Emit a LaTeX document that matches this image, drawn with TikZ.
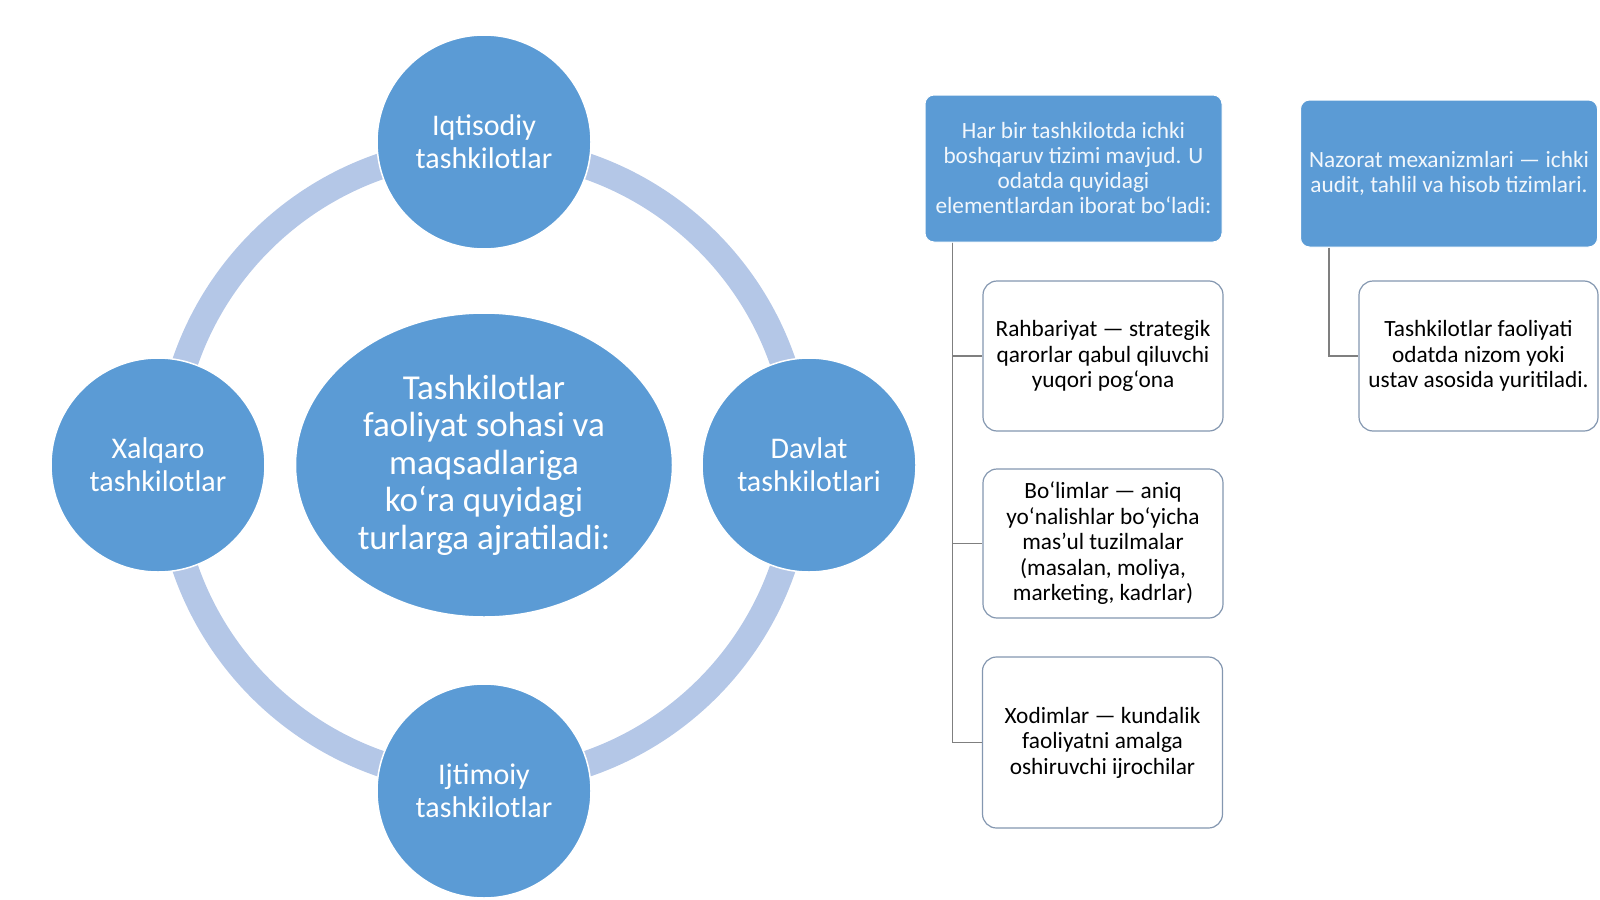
\documentclass[tikz,border=0pt]{standalone}
\usepackage{fontspec}
\setmainfont{Carlito}
\usetikzlibrary{shapes.geometric}
\definecolor{orgblue}{HTML}{5B9BD5}
\definecolor{ringblue}{HTML}{B4C7E7}
\definecolor{kidline}{HTML}{8497B0}
\definecolor{linkgray}{HTML}{7F7F7F}
\begin{document}
\begin{tikzpicture}[x=1pt, y=-1pt,
    ring/.style={draw=ringblue, line width=26pt},
    orb/.style={circle, fill=orgblue, draw=white, line width=1.5pt, minimum size=214pt, inner sep=0pt, align=center, text=white, font=\fontsize{30}{33}\selectfont},
    hub/.style={ellipse, fill=orgblue, draw=white, line width=1.5pt, minimum width=377pt, minimum height=304pt, inner sep=0pt, align=center, text=white, font=\fontsize{35}{37.5}\selectfont},
    head/.style={rectangle, rounded corners=9pt, fill=orgblue, draw=white, line width=1pt, minimum width=297pt, minimum height=147pt, inner sep=0pt, align=center, text=white!92!orgblue, font=\fontsize{23.3}{25}\selectfont},
    kid/.style={rectangle, rounded corners=14pt, fill=white, draw=kidline, line width=1.2pt, minimum width=240pt, inner sep=0pt, align=center, font=\fontsize{23.3}{25.5}\selectfont},
    link/.style={draw=linkgray, line width=1.3pt}
]
\useasboundingbox (0,0) rectangle (1600,899);
% Cycle of organisation types
\coordinate (mid) at (484,465);
\draw[ring] (mid) circle (316);
\node[hub] (hub) at (mid) {Tashkilotlar\\faoliyat sohasi va\\maqsadlariga\\ko‘ra quyidagi\\turlarga ajratiladi:};
\node[orb] (econ) at (484,142) {Iqtisodiy\\tashkilotlar};
\node[orb] (state) at (809,465) {Davlat\\tashkilotlari};
\node[orb] (social) at (484,791) {Ijtimoiy\\tashkilotlar};
\node[orb] (intl) at (158,465) {Xalqaro\\tashkilotlar};
% Internal management
\node[head] (mgmt) at (1073.5,168.5) {Har bir tashkilotda ichki\\boshqaruv tizimi mavjud. U\\odatda quyidagi\\elementlardan iborat bo‘ladi:};
\node[kid, minimum height=150pt] (lead) at (1103,356) {Rahbariyat — strategik\\qarorlar qabul qiluvchi\\yuqori pog‘ona};
\node[kid, minimum height=149pt] (dept) at (1103,543.5) {Bo‘limlar — aniq\\yo‘nalishlar bo‘yicha\\mas’ul tuzilmalar\\(masalan, moliya,\\marketing, kadrlar)};
\node[kid, minimum height=171pt] (staff) at (1102.5,742.5) {Xodimlar — kundalik\\faoliyatni amalga\\oshiruvchi ijrochilar};
% Control
\node[head] (ctrl) at (1449,173.5) {Nazorat mexanizmlari — ichki\\audit, tahlil va hisob tizimlari.};
\node[kid, minimum height=150pt, minimum width=239pt] (rule) at (1478.5,356) {Tashkilotlar faoliyati\\odatda nizom yoki\\ustav asosida yuritiladi.};
% Connectors
\draw[link] ([xshift=28pt]mgmt.south west) |- (lead.west);
\draw[link] ([xshift=28pt]mgmt.south west) |- (dept.west);
\draw[link] ([xshift=28pt]mgmt.south west) |- (staff.west);
\draw[link] ([xshift=29pt]ctrl.south west) |- (rule.west);
\end{tikzpicture}
\end{document}
